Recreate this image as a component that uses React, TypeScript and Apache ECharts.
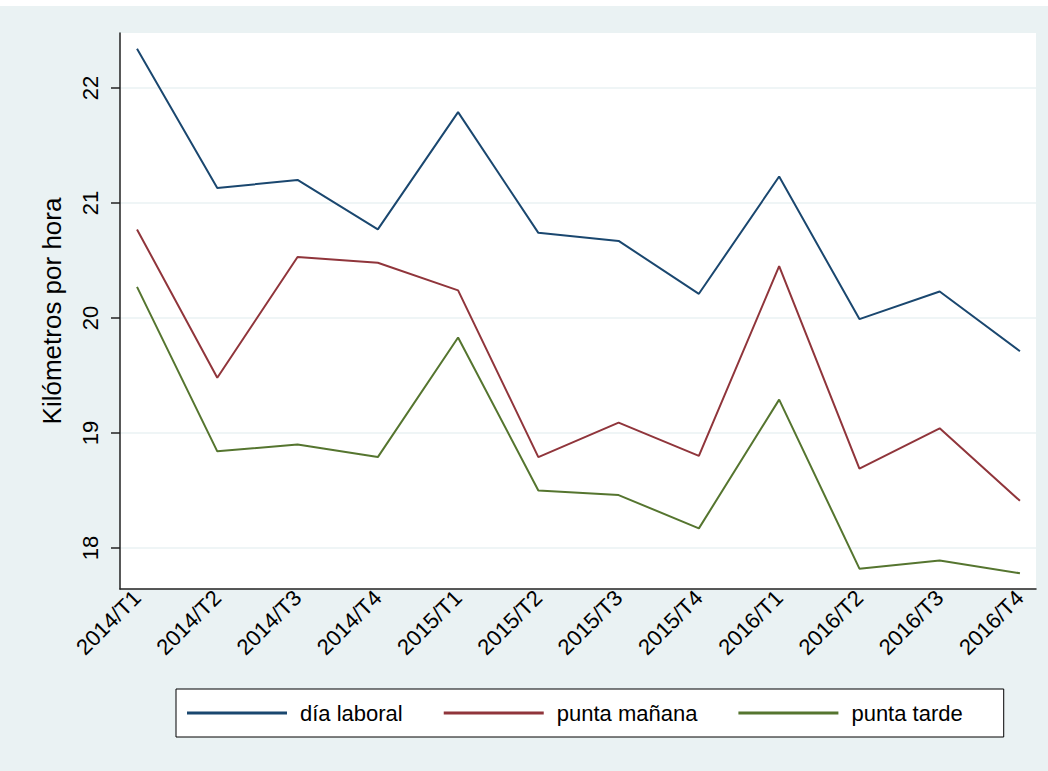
import React, { useEffect, useRef } from "react";
import * as echarts from "echarts";

const categories = [
  "2014/T1", "2014/T2", "2014/T3", "2014/T4",
  "2015/T1", "2015/T2", "2015/T3", "2015/T4",
  "2016/T1", "2016/T2", "2016/T3", "2016/T4",
];
const diaLaboral = [22.34, 21.13, 21.2, 20.77, 21.79, 20.74, 20.67, 20.21, 21.23, 19.99, 20.23, 19.71];
const puntaManana = [20.77, 19.48, 20.53, 20.48, 20.24, 18.79, 19.09, 18.8, 20.45, 18.69, 19.04, 18.41];
const puntaTarde = [20.27, 18.84, 18.9, 18.79, 19.83, 18.5, 18.46, 18.17, 19.29, 17.82, 17.89, 17.78];
const yTicks = [18, 19, 20, 21, 22];
const seriesNames = ["día laboral", "punta mañana", "punta tarde"];
const colors = ["#1A476F", "#90353B", "#55752F"];

export default function App() {
  const ref = useRef<HTMLDivElement>(null);
  useEffect(() => {
    if (!ref.current) return;
    const chart = echarts.init(ref.current, null, { renderer: "svg" });
    const font = "'Liberation Sans', Arial, Helvetica, sans-serif";
    const mk = (vals: number[]) => vals.map((v, i) => [i, v]);
    const allData = [diaLaboral, puntaManana, puntaTarde];
    chart.setOption({
      animation: false,
      backgroundColor: "#EAF2F3",
      textStyle: { fontFamily: font },
      grid: {
        left: 120,
        right: 12,
        top: 27,
        bottom: 182,
        show: true,
        backgroundColor: "#FFFFFF",
        borderWidth: 0,
      },
      legend: {
        bottom: 34,
        left: 176,
        itemWidth: 100,
        itemHeight: 3,
        itemGap: 41,
        backgroundColor: "#FFFFFF",
        borderColor: "#000000",
        borderWidth: 1,
        padding: [13, 41, 13, 11],
        icon: "rect",
        textStyle: { fontSize: 22, color: "#000", fontFamily: font, padding: [0, 0, 0, 8] },
        data: seriesNames,
      },
      xAxis: {
        type: "value",
        min: -0.212,
        max: 11.2,
        splitLine: { show: false },
        axisLine: { show: true, onZero: false, lineStyle: { color: "#222", width: 1.5 } },
        axisTick: { show: false },
        axisLabel: {
          customValues: categories.map((_, i) => i),
          rotate: 45,
          margin: 5,
          fontSize: 22,
          color: "#000",
          fontFamily: font,
          formatter: (v: number) => categories[Math.round(v)] ?? "",
        },
      },
      yAxis: {
        type: "value",
        min: 17.643,
        max: 22.478,
        name: "Kilómetros por hora",
        nameLocation: "middle",
        nameGap: 55,
        nameRotate: 90,
        nameTextStyle: { fontSize: 26, color: "#000", fontFamily: font },
        axisLine: { show: true, onZero: false, lineStyle: { color: "#222", width: 1.5 } },
        axisTick: { show: true, length: 9, customValues: yTicks, lineStyle: { color: "#222", width: 1.5 } },
        splitLine: { show: true, lineStyle: { color: "#EAF2F3", width: 1.5 } },
        axisLabel: {
          customValues: yTicks,
          rotate: 90,
          margin: 19,
          fontSize: 22,
          color: "#000",
          fontFamily: font,
        },
      },
      series: allData.map((d, k) => ({
        name: seriesNames[k],
        type: "line",
        data: mk(d),
        showSymbol: false,
        symbol: "none",
        lineStyle: { color: colors[k], width: 2 },
        itemStyle: { color: colors[k] },
      })),
    });
    return () => chart.dispose();
  }, []);
  return (
    <div style={{ position: "absolute", left: 0, top: 0, width: 1048, height: 771, background: "#FFFFFF" }}>
      <div ref={ref} style={{ position: "absolute", left: 0, top: 6, width: 1048, height: 765 }} />
    </div>
  );
}
